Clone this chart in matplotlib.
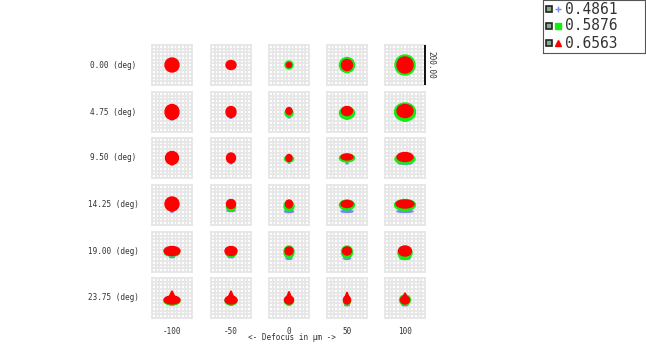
import numpy as np
import matplotlib
matplotlib.use("Agg")
import matplotlib.pyplot as plt
from matplotlib.patches import Ellipse, Polygon

# field angles (rows) and defocus positions (columns)
fields = ["0.00 (deg)", "4.75 (deg)", "9.50 (deg)", "14.25 (deg)", "19.00 (deg)", "23.75 (deg)"]
defocus = [-100, -50, 0, 50, 100]
wavelengths = ["0.4861", "0.5876", "0.6563"]
scale_um = 200.0

# spot extents per cell in um: width, height, vertical offset (rows = fields)
red_w = [[70, 50, 25, 55, 80], [70, 50, 30, 55, 80], [65, 45, 30, 60, 80],
         [70, 45, 35, 60, 90], [80, 60, 40, 45, 65], [80, 60, 45, 35, 45]]
red_h = [[70, 45, 25, 55, 80], [75, 55, 35, 45, 65], [65, 50, 35, 30, 45],
         [70, 45, 40, 35, 40], [45, 45, 40, 40, 50], [40, 40, 40, 40, 40]]
red_dy = [[0, 0, 0, 0, 0], [0, 0, 5, 5, 5], [0, 0, 0, 5, 5],
          [5, 5, 5, 5, 5], [5, 5, 5, 5, 5], [-10, -10, -10, -10, -10]]
# upward tip of the red spot: base width and apex height (um)
tip_w = [[0, 0, 0, 0, 0], [0, 0, 0, 0, 0], [0, 0, 0, 0, 0],
         [0, 0, 0, 0, 0], [0, 0, 0, 0, 0], [45, 40, 35, 30, 35]]
tip_y = [[0, 0, 0, 0, 0], [0, 0, 0, 0, 0], [0, 0, 0, 0, 0],
         [0, 0, 0, 0, 0], [0, 0, 0, 0, 0], [36, 36, 33, 30, 26]]
green_w = [[0, 0, 40, 75, 100], [0, 0, 40, 75, 105], [0, 0, 45, 75, 100],
           [0, 45, 50, 75, 105], [70, 50, 50, 55, 70], [80, 60, 45, 35, 55]]
green_h = [[0, 0, 40, 75, 100], [0, 0, 40, 60, 90], [0, 0, 30, 40, 50],
           [0, 40, 50, 50, 55], [20, 25, 60, 60, 65], [40, 40, 40, 40, 50]]
green_dy = [[0, 0, 0, 0, 0], [0, 0, -5, -5, 0], [0, 0, -5, 0, -5],
            [0, -10, -5, 0, 0], [-10, -10, 0, 0, -5], [-15, -15, -15, -15, -10]]
blue_w = [[0, 0, 0, 0, 0], [15, 10, 10, 15, 20], [10, 8, 10, 10, 70],
          [15, 40, 45, 60, 80], [25, 30, 30, 35, 50], [20, 20, 20, 25, 30]]
blue_h = [[0, 0, 0, 0, 0], [8, 8, 8, 8, 8], [8, 8, 8, 8, 8],
          [8, 10, 12, 10, 10], [10, 10, 10, 10, 10], [8, 8, 8, 10, 10]]
blue_dy = [[0, 0, 0, 0, 0], [-36, -28, -26, -32, -42], [-32, -26, -22, -26, -27],
           [-32, -28, -32, -32, -32], [-24, -24, -32, -32, -32], [-32, -32, -32, -34, -34]]

W, H = 646, 346
fig = plt.figure(figsize=(W / 100, H / 100), dpi=100)
mono = "DejaVu Sans Mono"
txt_col = "#333333"

col_left = [152, 211, 269, 327, 385]
row_top = [45, 92, 138, 185, 232, 278]
cell = 40

for i, fname in enumerate(fields):
    for j, d in enumerate(defocus):
        ax = fig.add_axes([col_left[j] / W, 1 - (row_top[i] + cell) / H, cell / W, cell / H])
        ax.set_xlim(-scale_um / 2, scale_um / 2)
        ax.set_ylim(-scale_um / 2, scale_um / 2)
        g = np.linspace(-scale_um / 2, scale_um / 2, 12)
        ax.set_xticks(g)
        ax.set_yticks(g)
        ax.grid(True, color="#e6e6e6", lw=1.3)
        ax.tick_params(length=0, labelbottom=False, labelleft=False)
        for s in ax.spines.values():
            s.set_color("#e6e6e6")
            s.set_linewidth(1.3)
        if blue_w[i][j] > 0:
            ax.add_patch(Ellipse((0, blue_dy[i][j]), blue_w[i][j], blue_h[i][j], color="#7b88f0", zorder=3))
        if green_w[i][j] > 0:
            ax.add_patch(Ellipse((0, green_dy[i][j]), green_w[i][j], green_h[i][j], color="#11ee11", zorder=4))
        ax.add_patch(Ellipse((0, red_dy[i][j]), red_w[i][j], red_h[i][j], color="#ff0000", zorder=5))
        if tip_w[i][j] > 0:
            base = red_dy[i][j]
            ax.add_patch(Polygon([(-tip_w[i][j] / 2, base), (tip_w[i][j] / 2, base), (0, tip_y[i][j])],
                                 closed=True, color="#ff0000", zorder=5))
    fig.text(113 / W, 1 - (row_top[i] + cell / 2) / H, fname, ha="center", va="center",
             family=mono, fontsize=5.5, color=txt_col)

for j, d in enumerate(defocus):
    fig.text((col_left[j] + cell / 2) / W, 1 - 332 / H, str(d), ha="center", va="center",
             family=mono, fontsize=5.5, color=txt_col)
fig.text(292 / W, 1 - 337 / H, "<- Defocus in µm ->", ha="center", va="center",
         family=mono, fontsize=5.5, color=txt_col)

# scale bar
sax = fig.add_axes([420 / W, 1 - (row_top[0] + cell) / H, 20 / W, cell / H])
sax.set_xlim(0, 1)
sax.set_ylim(0, scale_um)
sax.axis("off")
sax.plot([0.25, 0.25], [0, scale_um], color="black", lw=1.3)
sax.text(0.55, scale_um / 2, "%.2f" % scale_um, rotation=270, ha="center", va="center",
         family=mono, fontsize=5.5, color=txt_col)

# legend
lax = fig.add_axes([543 / W, 1 - 53 / H, 102 / W, 53 / H])
lax.set_xlim(0, 102)
lax.set_ylim(53, 0)
lax.set_xticks([])
lax.set_yticks([])
for s in lax.spines.values():
    s.set_color("#555555")
    s.set_linewidth(0.8)
lmarkers = ["+", "s", "^"]
lcolors = ["#7b88f0", "#11ee11", "#ff0000"]
for k, wl in enumerate(wavelengths):
    y = 9 + k * 17
    lax.plot(6, y, marker="s", ms=5, mfc="#88aa88", mec="#222222", mew=1.2)
    lax.plot(15, y, marker=lmarkers[k], ms=4, color=lcolors[k], mew=1)
    lax.text(22, y, wl, ha="left", va="center", family=mono, fontsize=10.5, color=txt_col)

fig.savefig("out.png", dpi=100)
